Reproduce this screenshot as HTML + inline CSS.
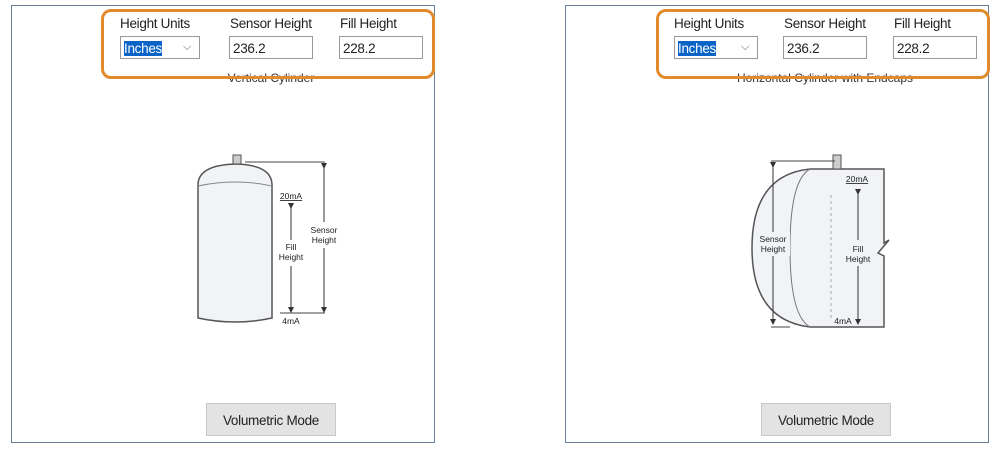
<!DOCTYPE html>
<html><head><style>
body{margin:0;width:997px;height:453px;background:#fff;position:relative;overflow:hidden;font-family:"Liberation Sans",sans-serif}
.p{position:absolute;top:5px;width:422px;height:436px;border:1.5px solid #6b7f95;background:#fff}
.o{position:absolute;top:9px;width:328px;height:64px;border:3px solid #e08a2c;border-radius:10px}
.l{position:absolute;top:16px;font-size:13.5px;color:#222;letter-spacing:-0.3px}
.f{position:absolute;top:36px;height:23px;border:1px solid #9a9a9a;background:#fff;font-size:13.5px;line-height:23px;padding-left:3px;color:#222;box-sizing:border-box;letter-spacing:-0.3px}
.t{position:absolute;top:71px;font-size:12px;color:#333;width:300px;text-align:center}
.b{position:absolute;top:403px;width:130px;height:33px;background:#e3e3e3;border:1px solid #c8c8c8;font-size:13.5px;text-align:center;line-height:33px;color:#222;box-sizing:border-box;letter-spacing:-0.3px}
</style></head><body>
<div class="p" style="left:11px"></div>
<div class="p" style="left:565px"></div>

<div class="l" style="left:120px">Height Units</div>
<div class="l" style="left:230px">Sensor Height</div>
<div class="l" style="left:340px">Fill Height</div>
<div class="f" style="left:120px;width:80px"><span style="background:#0a64c8;color:#fff">Inches</span><span style="position:absolute;right:8px;top:-1px;font-size:11px;color:#555">⌵</span></div>
<div class="f" style="left:229px;width:84px">236.2</div>
<div class="f" style="left:339px;width:84px">228.2</div>
<div class="t" style="left:121px">Vertical Cylinder</div>
<div class="o" style="left:101px"></div>

<div class="l" style="left:674px">Height Units</div>
<div class="l" style="left:784px">Sensor Height</div>
<div class="l" style="left:894px">Fill Height</div>
<div class="f" style="left:674px;width:84px"><span style="background:#0a64c8;color:#fff">Inches</span><span style="position:absolute;right:8px;top:-1px;font-size:11px;color:#555">⌵</span></div>
<div class="f" style="left:783px;width:84px">236.2</div>
<div class="f" style="left:893px;width:84px">228.2</div>
<div class="t" style="left:675px">Horizontal Cylinder with Endcaps</div>
<div class="o" style="left:656px"></div>

<div class="b" style="left:206px">Volumetric Mode</div>
<div class="b" style="left:761px">Volumetric Mode</div>

<svg width="997" height="453" style="position:absolute;left:0;top:0" font-family="Liberation Sans,sans-serif" font-size="8.5" fill="#222">
<defs><marker id="a" markerWidth="6" markerHeight="6" refX="3" refY="3" orient="auto"><path d="M0,0L6,3L0,6z" fill="#333"/></marker></defs>
<!-- vertical cylinder -->
<path d="M198,185 Q198,165 236,164 Q272,165 272,185 L272,318 Q235,326 198,318 Z" fill="#f1f3f6" stroke="#555" stroke-width="1.5"/>
<path d="M198,186 Q235,178 272,186" fill="none" stroke="#888"/>
<rect x="233" y="155" width="8" height="9" fill="#ccc" stroke="#555"/>
<path d="M245,162H325M280,313H325" stroke="#444"/>
<path d="M324,166V310" stroke="#333" marker-start="url(#a)" marker-end="url(#a)"/>
<path d="M291,206V310" stroke="#333" marker-start="url(#a)" marker-end="url(#a)"/>
<rect x="278" y="240" width="26" height="26" fill="#fff"/>
<rect x="308" y="222" width="32" height="26" fill="#fff"/>
<text x="291" y="199" text-anchor="middle" text-decoration="underline">20mA</text>
<text x="291" y="250" text-anchor="middle">Fill</text><text x="291" y="260" text-anchor="middle">Height</text>
<text x="324" y="233" text-anchor="middle">Sensor</text><text x="324" y="243" text-anchor="middle">Height</text>
<text x="291" y="324" text-anchor="middle">4mA</text>
<!-- horizontal -->
<path d="M810,169 Q752,175 752,248 Q752,320 810,327 L884,327 L884,256 L878,253 L889,240 L884,243 L884,169 Z" fill="#f1f3f6" stroke="#555" stroke-width="1.5"/>
<path d="M810,169 Q790,180 790,248 Q790,316 810,327" fill="none" stroke="#777"/>
<path d="M831,195V320" stroke="#aaa" stroke-dasharray="3,3"/>
<rect x="833" y="155" width="8" height="14" fill="#ccc" stroke="#555"/>
<path d="M771,161H835M771,327H790" stroke="#444"/>
<path d="M773,165V322" stroke="#333" marker-start="url(#a)" marker-end="url(#a)"/>
<path d="M858,192V322" stroke="#333" marker-start="url(#a)" marker-end="url(#a)"/>
<rect x="756" y="232" width="34" height="24" fill="#f1f3f6"/>
<rect x="844" y="240" width="28" height="26" fill="#f1f3f6"/>
<text x="773" y="242" text-anchor="middle">Sensor</text><text x="773" y="252" text-anchor="middle">Height</text>
<text x="858" y="252" text-anchor="middle">Fill</text><text x="858" y="262" text-anchor="middle">Height</text>
<text x="857" y="182" text-anchor="middle" text-decoration="underline">20mA</text>
<text x="843" y="324" text-anchor="middle">4mA</text>
</svg>
</body></html>
